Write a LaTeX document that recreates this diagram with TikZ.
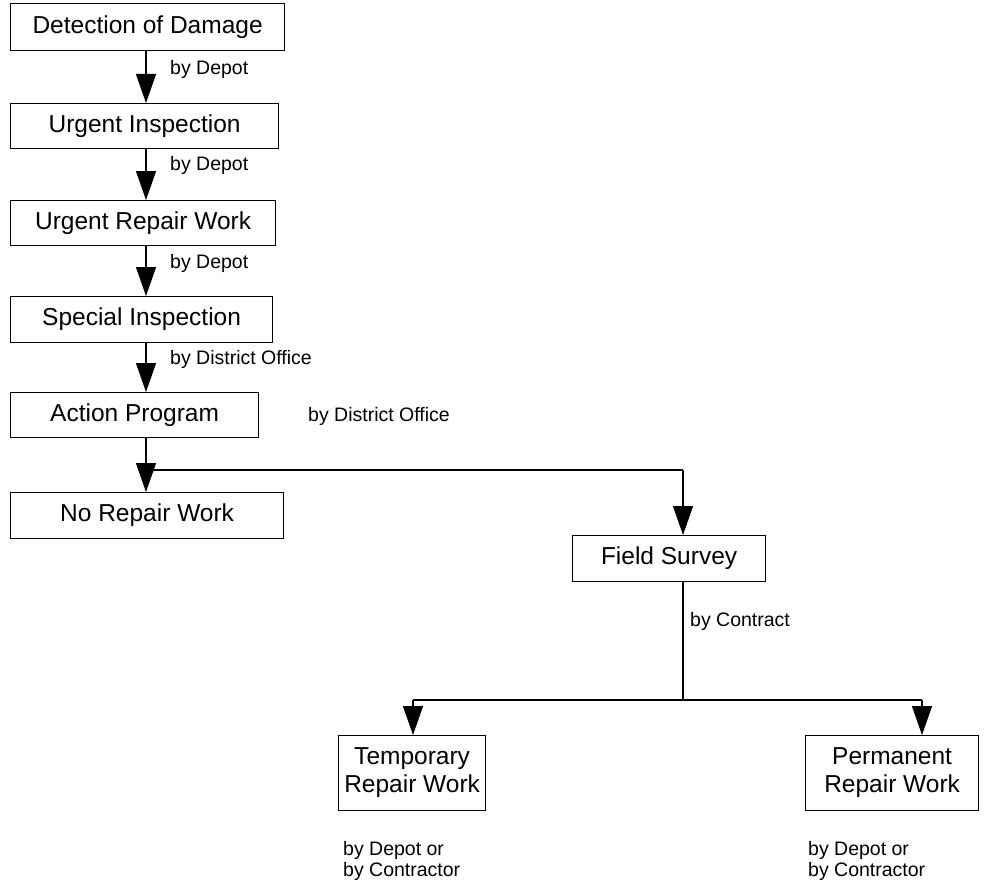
\documentclass[tikz,border=0pt]{standalone}
\usepackage{fontspec}
\setmainfont{Liberation Sans}
\usetikzlibrary{arrows.meta}
\begin{document}
\begin{tikzpicture}[x=1pt,y=-1pt,
  box/.style={draw,line width=1.2pt,inner sep=0pt,font=\fontsize{24.5}{28}\selectfont,align=center},
  lbl/.style={inner sep=0pt,anchor=west,font=\fontsize{19.5}{21}\selectfont},
  flow/.style={line width=1.3pt,-{Triangle[length=29pt,width=20pt]}},
  link/.style={line width=1.3pt}]
\useasboundingbox (0,0) rectangle (1003,880);
% main column of steps
\node[box,minimum width=274pt,minimum height=47pt,anchor=north west] (det) at (10,3) {Detection of Damage};
\node[box,minimum width=268pt,minimum height=45pt,anchor=north west] (ui) at (10,103) {Urgent Inspection};
\node[box,minimum width=265pt,minimum height=45pt,anchor=north west] (urw) at (10,200) {Urgent Repair Work};
\node[box,minimum width=262pt,minimum height=46pt,anchor=north west] (si) at (10,296) {Special Inspection};
\node[box,minimum width=248pt,minimum height=45pt,anchor=north west] (ap) at (10,392) {Action Program};
\node[box,minimum width=273pt,minimum height=46pt,anchor=north west] (nrw) at (10,492) {No Repair Work};
\node[box,minimum width=193pt,minimum height=46pt,anchor=north west] (fs) at (572,535) {Field Survey};
\node[box,minimum width=147pt,minimum height=75pt,anchor=north west] (trw) at (338,735) {Temporary\\Repair Work};
\node[box,minimum width=173pt,minimum height=75pt,anchor=north west] (prw) at (805,735) {Permanent\\Repair Work};
% branch points
\coordinate (b1) at (146,470);
\coordinate (b2) at (683,470);
\coordinate (c1) at (683,700);
\coordinate (c2) at (413,700);
\coordinate (c3) at (922,700);
% connectors
\draw[flow] (det.south -| b1) -- (ui.north -| b1);
\draw[flow] (ui.south -| b1) -- (urw.north -| b1);
\draw[flow] (urw.south -| b1) -- (si.north -| b1);
\draw[flow] (si.south -| b1) -- (ap.north -| b1);
\draw[flow] (ap.south -| b1) -- (nrw.north -| b1);
\draw[link] (b1) -- (b2);
\draw[flow] (b2) -- (fs.north -| b2);
\draw[link] (fs.south -| c1) -- (c1);
\draw[link] (c2) -- (c3);
\draw[flow] (c2) -- (trw.north -| c2);
\draw[flow] (c3) -- (prw.north -| c3);
% labels
\node[lbl] (l1) at (170,69) {by Depot};
\node[lbl] (l2) at (170,165) {by Depot};
\node[lbl] (l3) at (170,263) {by Depot};
\node[lbl] (l4) at (170,359) {by District Office};
\node[lbl] (l5) at (308,416) {by District Office};
\node[lbl] (l6) at (690,621) {by Contract};
\node[lbl,align=left,anchor=north west] (l7) at (343,841) {by Depot or\\by Contractor};
\node[lbl,align=left,anchor=north west] (l8) at (808,841) {by Depot or\\by Contractor};
\end{tikzpicture}
\end{document}
